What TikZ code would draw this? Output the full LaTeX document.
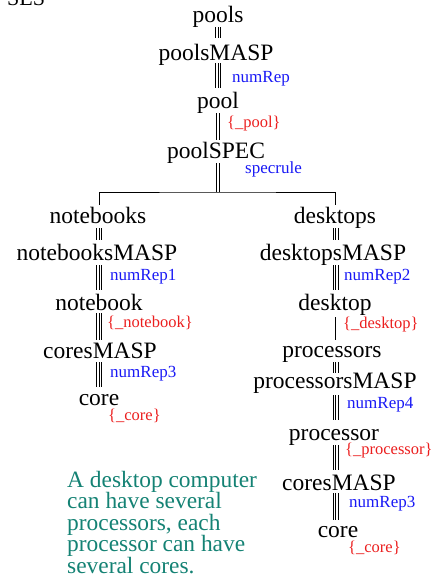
\documentclass[tikz,border=0pt]{standalone}
\usepackage{fontspec}
\setmainfont{Liberation Serif}
\usetikzlibrary{calc}
\definecolor{repblue}{RGB}{25,25,245}
\definecolor{setred}{RGB}{235,30,30}
\definecolor{noteteal}{RGB}{20,130,116}
% parallel strokes from node #1 to node #2 along column #3;
% #4 = gap below the baseline of #1, #5 = gap above the baseline of #2, #6 = stroke offsets
\newcommand\multilink[6]{%
  \foreach \dx in {#6} {%
    \draw[conn,transform canvas={xshift=\dx pt}]
      ($(#1.base -| #3)+(0,#4)$) -- ($(#2.base -| #3)+(0,-#5)$);}}
\begin{document}
\begin{tikzpicture}[x=1pt,y=-1pt,
  term/.style={anchor=base,inner sep=0pt,font=\fontsize{23.5}{26}\selectfont},
  replab/.style={anchor=base west,inner sep=0pt,text=repblue,font=\fontsize{17}{19}\selectfont},
  setlab/.style={anchor=base west,inner sep=0pt,text=setred,font=\fontsize{16.5}{19}\selectfont},
  notetext/.style={anchor=base west,inner sep=0pt,text=noteteal,font=\fontsize{23.4}{21.5}\selectfont},
  conn/.style={line width=0.75pt}]
\useasboundingbox (0,0) rectangle (442,581);
\clip (0,0) rectangle (442,581);

% columns carrying the connectors
\coordinate (colM) at (218,0);
\coordinate (colL) at (99,0);
\coordinate (colR) at (335.5,0);
\coordinate (bar) at (218,192);

\node[anchor=base west,inner sep=0pt,font=\fontsize{22}{24}\selectfont] (ses) at (7,5) {SES};

% main spine
\node[term] (pools) at (218,22) {pools};
\node[term] (poolsMASP) at (216,60) {poolsMASP};
\node[term] (pool) at (218,108) {pool};
\node[term] (poolSPEC) at (216,158) {poolSPEC};

% notebook branch
\node[term] (notebooks) at (98,223) {notebooks};
\node[term] (notebooksMASP) at (97,260) {notebooksMASP};
\node[term] (notebook) at (99,310) {notebook};
\node[term] (coresL) at (100,358) {coresMASP};
\node[term] (coreL) at (99,405) {core};

% desktop branch
\node[term] (desktops) at (335,223) {desktops};
\node[term] (desktopsMASP) at (333,260) {desktopsMASP};
\node[term] (desktop) at (335,310) {desktop};
\node[term] (processors) at (332,357) {processors};
\node[term] (processorsMASP) at (335,388) {processorsMASP};
\node[term] (processor) at (334,440) {processor};
\node[term] (coresR) at (339,490) {coresMASP};
\node[term] (coreR) at (338,537) {core};

% labels on the links
\node[replab] (l1) at (232,82) {numRep};
\node[setlab] (l2) at (227,127) {\{\_pool\}};
\node[replab] (l3) at (245,173) {specrule};
\node[replab] (l4) at (110,280) {numRep1};
\node[setlab] (l5) at (107,327) {\{\_notebook\}};
\node[replab] (l6) at (110,377) {numRep3};
\node[setlab] (l7) at (108,420) {\{\_core\}};
\node[replab] (l8) at (344,280) {numRep2};
\node[setlab] (l9) at (343,328) {\{\_desktop\}};
\node[replab] (l10) at (347,408) {numRep4};
\node[setlab] (l11) at (345,454) {\{\_processor\}};
\node[replab] (l12) at (349,507) {numRep3};
\node[setlab] (l13) at (348,552) {\{\_core\}};

% links
\multilink{pools}{poolsMASP}{colM}{5}{22}{-2.4,0,2.4}
\multilink{poolsMASP}{pool}{colM}{3}{20}{-2.4,0,2.4}
\multilink{pool}{poolSPEC}{colM}{5}{18}{-1.5,1.5}
\foreach \dx in {-1.5,1.5}
  \draw[conn,transform canvas={xshift=\dx pt}] ($(poolSPEC.base -| colM)+(0,5)$) -- (bar);
\draw[conn] ($(notebooks.base -| colL)+(0,-18)$) |- (bar) -| ($(desktops.base -| colR)+(0,-18)$);

\multilink{notebooks}{notebooksMASP}{colL}{5}{20}{-2.4,0,2.4}
\multilink{notebooksMASP}{notebook}{colL}{5}{20}{-2.4,0,2.4}
\multilink{notebook}{coresL}{colL}{3}{18}{-2.4,0,2.4}
\multilink{coresL}{coreL}{colL}{4}{18}{-2.4,0,2.4}

\multilink{desktops}{desktopsMASP}{colR}{5}{20}{-2.4,0,2.4}
\multilink{desktopsMASP}{desktop}{colR}{5}{20}{-2.4,0,2.4}
\multilink{desktop}{processors}{colR}{7}{17}{0}
\multilink{processors}{processorsMASP}{colR}{5}{15}{-2.4,0,2.4}
\multilink{processorsMASP}{processor}{colR}{7}{20}{-2.4,0,2.4}
\multilink{processor}{coresR}{colR}{5}{20}{-2.4,0,2.4}
\multilink{coresR}{coreR}{colR}{3}{17}{-2.4,0,2.4}

% explanatory note
\foreach \t [count=\i] in {A desktop computer,can have several,{processors, each},processor can have,several cores.}
  \node[notetext,name=note\i] at (67,{487+21.5*(\i-1)}) {\t};
\end{tikzpicture}
\end{document}
